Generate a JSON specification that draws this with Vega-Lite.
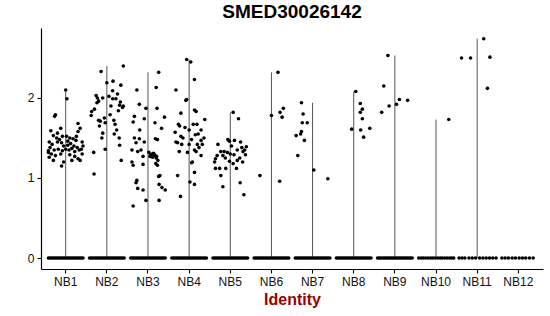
{
"$schema": "https://vega.github.io/schema/vega-lite/v6.json",
"width": 502, "height": 241,
"autosize": {"type": "none"},
"padding": {"left": 41, "top": 28, "right": 7, "bottom": 47},
"background": "white",
"title": {"text": "SMED30026142", "fontSize": 19, "fontWeight": "bold", "font": "Liberation Sans", "color": "black", "anchor": "middle", "offset": 6},
"config": {"view": {"stroke": null}, "axis": {"grid": false, "domainColor": "black", "tickColor": "black", "labelColor": "#111", "labelFont": "Liberation Sans", "labelFontSize": 12, "titleFont": "Liberation Sans", "domainWidth": 1.2, "tickWidth": 1.1, "tickSize": 4, "labelPadding": 3}},
"data": {"values": [
{"g":"NB1","v":2.10,"j":0.0},{"g":"NB1","v":1.99,"j":0.03},{"g":"NB1","v":1.79,"j":-0.25},{"g":"NB1","v":1.77,"j":-0.27},{"g":"NB1","v":1.59,"j":-0.36},{"g":"NB1","v":1.56,"j":-0.2},{"g":"NB1","v":1.62,"j":-0.12},{"g":"NB1","v":1.53,"j":-0.3},{"g":"NB1","v":1.45,"j":-0.4},{"g":"NB1","v":1.42,"j":-0.33},{"g":"NB1","v":1.38,"j":-0.38},{"g":"NB1","v":1.32,"j":-0.42},{"g":"NB1","v":1.5,"j":-0.22},{"g":"NB1","v":1.48,"j":-0.15},{"g":"NB1","v":1.52,"j":-0.08},{"g":"NB1","v":1.52,"j":0.02},{"g":"NB1","v":1.5,"j":0.1},{"g":"NB1","v":1.49,"j":0.18},{"g":"NB1","v":1.47,"j":0.25},{"g":"NB1","v":1.58,"j":0.3},{"g":"NB1","v":1.62,"j":0.35},{"g":"NB1","v":1.68,"j":0.3},{"g":"NB1","v":1.44,"j":-0.1},{"g":"NB1","v":1.40,"j":-0.05},{"g":"NB1","v":1.41,"j":0.05},{"g":"NB1","v":1.43,"j":0.12},{"g":"NB1","v":1.40,"j":0.2},{"g":"NB1","v":1.38,"j":0.28},{"g":"NB1","v":1.36,"j":0.38},{"g":"NB1","v":1.40,"j":0.42},{"g":"NB1","v":1.35,"j":-0.28},{"g":"NB1","v":1.36,"j":-0.18},{"g":"NB1","v":1.34,"j":-0.08},{"g":"NB1","v":1.36,"j":0.0},{"g":"NB1","v":1.35,"j":0.08},{"g":"NB1","v":1.37,"j":0.15},{"g":"NB1","v":1.33,"j":0.22},{"g":"NB1","v":1.35,"j":0.33},{"g":"NB1","v":1.3,"j":0.4},{"g":"NB1","v":1.3,"j":-0.35},{"g":"NB1","v":1.28,"j":-0.25},{"g":"NB1","v":1.3,"j":-0.12},{"g":"NB1","v":1.29,"j":0.1},{"g":"NB1","v":1.27,"j":0.22},{"g":"NB1","v":1.24,"j":0.3},{"g":"NB1","v":1.34,"j":-0.42},{"g":"NB1","v":1.22,"j":-0.3},{"g":"NB1","v":1.2,"j":-0.05},{"g":"NB1","v":1.22,"j":0.15},{"g":"NB1","v":1.22,"j":0.35},{"g":"NB1","v":1.15,"j":-0.1},{"g":"NB1","v":1.45,"j":-0.2},{"g":"NB1","v":1.46,"j":0.05},{"g":"NB1","v":1.52,"j":0.26},{"g":"NB1","v":1.26,"j":-0.4},{"g":"NB1","v":1.45,"j":0.4},
{"g":"NB2","v":2.33,"j":-0.14},{"g":"NB2","v":2.4,"j":0.4},{"g":"NB2","v":2.19,"j":0.0},{"g":"NB2","v":2.21,"j":0.15},{"g":"NB2","v":2.16,"j":0.34},{"g":"NB2","v":2.09,"j":0.14},{"g":"NB2","v":2.0,"j":-0.23},{"g":"NB2","v":2.0,"j":-0.1},{"g":"NB2","v":1.99,"j":0.22},{"g":"NB2","v":1.99,"j":0.14},{"g":"NB2","v":1.94,"j":-0.24},{"g":"NB2","v":1.96,"j":-0.2},{"g":"NB2","v":1.91,"j":0.31},{"g":"NB2","v":1.9,"j":0.4},{"g":"NB2","v":1.83,"j":-0.37},{"g":"NB2","v":1.78,"j":-0.38},{"g":"NB2","v":1.72,"j":-0.2},{"g":"NB2","v":1.71,"j":-0.16},{"g":"NB2","v":1.79,"j":0.08},{"g":"NB2","v":1.72,"j":0.17},{"g":"NB2","v":1.67,"j":0.2},{"g":"NB2","v":1.6,"j":0.24},{"g":"NB2","v":1.65,"j":-0.18},{"g":"NB2","v":1.56,"j":-0.1},{"g":"NB2","v":1.5,"j":-0.12},{"g":"NB2","v":1.69,"j":-0.04},{"g":"NB2","v":1.41,"j":0.31},{"g":"NB2","v":1.32,"j":-0.32},{"g":"NB2","v":1.36,"j":-0.04},{"g":"NB2","v":1.22,"j":0.35},{"g":"NB2","v":1.05,"j":-0.31},{"g":"NB2","v":1.84,"j":0.28},{"g":"NB2","v":1.88,"j":0.38},{"g":"NB2","v":1.86,"j":-0.3},{"g":"NB2","v":2.02,"j":0.05},{"g":"NB2","v":2.05,"j":0.26},{"g":"NB2","v":1.75,"j":-0.06},{"g":"NB2","v":1.9,"j":0.1},{"g":"NB2","v":2.03,"j":-0.26},{"g":"NB2","v":1.95,"j":0.33},{"g":"NB2","v":1.55,"j":0.18},{"g":"NB2","v":1.5,"j":0.3},
{"g":"NB3","v":2.32,"j":0.26},{"g":"NB3","v":2.1,"j":-0.27},{"g":"NB3","v":2.13,"j":0.2},{"g":"NB3","v":1.92,"j":-0.21},{"g":"NB3","v":1.87,"j":0.22},{"g":"NB3","v":1.87,"j":-0.05},{"g":"NB3","v":1.77,"j":-0.33},{"g":"NB3","v":1.74,"j":-0.09},{"g":"NB3","v":1.76,"j":0.4},{"g":"NB3","v":1.7,"j":-0.36},{"g":"NB3","v":1.69,"j":0.17},{"g":"NB3","v":1.6,"j":-0.2},{"g":"NB3","v":1.62,"j":0.33},{"g":"NB3","v":1.5,"j":-0.33},{"g":"NB3","v":1.49,"j":-0.21},{"g":"NB3","v":1.44,"j":-0.29},{"g":"NB3","v":1.45,"j":-0.09},{"g":"NB3","v":1.49,"j":0.18},{"g":"NB3","v":1.48,"j":0.23},{"g":"NB3","v":1.35,"j":-0.39},{"g":"NB3","v":1.33,"j":-0.25},{"g":"NB3","v":1.35,"j":-0.17},{"g":"NB3","v":1.32,"j":0.02},{"g":"NB3","v":1.29,"j":0.07},{"g":"NB3","v":1.3,"j":0.15},{"g":"NB3","v":1.27,"j":0.21},{"g":"NB3","v":1.26,"j":0.11},{"g":"NB3","v":1.27,"j":0.05},{"g":"NB3","v":1.27,"j":-0.12},{"g":"NB3","v":1.2,"j":-0.39},{"g":"NB3","v":1.16,"j":-0.36},{"g":"NB3","v":1.17,"j":-0.12},{"g":"NB3","v":1.16,"j":0.23},{"g":"NB3","v":1.02,"j":0.26},{"g":"NB3","v":1.03,"j":0.29},{"g":"NB3","v":0.97,"j":-0.27},{"g":"NB3","v":0.94,"j":-0.29},{"g":"NB3","v":0.87,"j":-0.25},{"g":"NB3","v":0.92,"j":0.27},{"g":"NB3","v":0.88,"j":0.34},{"g":"NB3","v":0.85,"j":0.42},{"g":"NB3","v":0.85,"j":-0.12},{"g":"NB3","v":0.72,"j":-0.05},{"g":"NB3","v":0.72,"j":0.27},{"g":"NB3","v":0.65,"j":-0.36},{"g":"NB3","v":1.3,"j":0.1},{"g":"NB3","v":1.28,"j":0.17},{"g":"NB3","v":1.31,"j":0.13},{"g":"NB3","v":1.25,"j":0.2},{"g":"NB3","v":1.22,"j":0.24},{"g":"NB3","v":1.18,"j":0.19},
{"g":"NB4","v":2.48,"j":-0.06},{"g":"NB4","v":2.45,"j":0.04},{"g":"NB4","v":2.23,"j":0.13},{"g":"NB4","v":2.1,"j":-0.32},{"g":"NB4","v":1.98,"j":-0.06},{"g":"NB4","v":1.97,"j":-0.08},{"g":"NB4","v":1.85,"j":0.13},{"g":"NB4","v":1.83,"j":0.17},{"g":"NB4","v":1.81,"j":-0.2},{"g":"NB4","v":1.73,"j":0.38},{"g":"NB4","v":1.67,"j":0.19},{"g":"NB4","v":1.67,"j":0.1},{"g":"NB4","v":1.67,"j":-0.26},{"g":"NB4","v":1.65,"j":-0.23},{"g":"NB4","v":1.63,"j":-0.1},{"g":"NB4","v":1.6,"j":0.29},{"g":"NB4","v":1.57,"j":-0.34},{"g":"NB4","v":1.54,"j":0.15},{"g":"NB4","v":1.55,"j":0.22},{"g":"NB4","v":1.52,"j":-0.2},{"g":"NB4","v":1.5,"j":-0.15},{"g":"NB4","v":1.48,"j":0.06},{"g":"NB4","v":1.47,"j":0.29},{"g":"NB4","v":1.44,"j":-0.28},{"g":"NB4","v":1.45,"j":-0.32},{"g":"NB4","v":1.42,"j":-0.18},{"g":"NB4","v":1.42,"j":0.0},{"g":"NB4","v":1.42,"j":0.2},{"g":"NB4","v":1.42,"j":0.32},{"g":"NB4","v":1.35,"j":0.13},{"g":"NB4","v":1.32,"j":-0.04},{"g":"NB4","v":1.33,"j":-0.24},{"g":"NB4","v":1.33,"j":0.17},{"g":"NB4","v":1.28,"j":0.29},{"g":"NB4","v":1.2,"j":0.08},{"g":"NB4","v":1.19,"j":0.06},{"g":"NB4","v":1.07,"j":0.13},{"g":"NB4","v":1.03,"j":-0.28},{"g":"NB4","v":0.95,"j":0.02},{"g":"NB4","v":0.92,"j":0.13},{"g":"NB4","v":0.77,"j":-0.21},{"g":"NB4","v":1.6,"j":0.0},{"g":"NB4","v":1.38,"j":0.24},{"g":"NB4","v":1.5,"j":0.36},
{"g":"NB5","v":1.82,"j":0.07},{"g":"NB5","v":1.74,"j":0.2},{"g":"NB5","v":1.48,"j":-0.06},{"g":"NB5","v":1.46,"j":-0.02},{"g":"NB5","v":1.47,"j":0.1},{"g":"NB5","v":1.4,"j":0.03},{"g":"NB5","v":1.39,"j":0.39},{"g":"NB5","v":1.35,"j":0.35},{"g":"NB5","v":1.35,"j":0.17},{"g":"NB5","v":1.33,"j":-0.23},{"g":"NB5","v":1.33,"j":-0.15},{"g":"NB5","v":1.32,"j":-0.07},{"g":"NB5","v":1.33,"j":0.31},{"g":"NB5","v":1.29,"j":0.37},{"g":"NB5","v":1.28,"j":-0.18},{"g":"NB5","v":1.28,"j":-0.32},{"g":"NB5","v":1.24,"j":-0.36},{"g":"NB5","v":1.29,"j":0.09},{"g":"NB5","v":1.25,"j":0.23},{"g":"NB5","v":1.21,"j":-0.02},{"g":"NB5","v":1.22,"j":0.17},{"g":"NB5","v":1.18,"j":0.07},{"g":"NB5","v":1.12,"j":-0.36},{"g":"NB5","v":1.12,"j":-0.26},{"g":"NB5","v":1.12,"j":-0.11},{"g":"NB5","v":1.03,"j":-0.23},{"g":"NB5","v":0.94,"j":0.24},{"g":"NB5","v":0.89,"j":-0.18},{"g":"NB5","v":0.79,"j":0.33},{"g":"NB5","v":1.42,"j":-0.3},{"g":"NB5","v":1.45,"j":0.25},{"g":"NB5","v":1.25,"j":-0.12},{"g":"NB5","v":1.3,"j":0.0},{"g":"NB5","v":1.38,"j":0.28},{"g":"NB5","v":1.2,"j":-0.38},{"g":"NB5","v":1.12,"j":0.15},{"g":"NB5","v":1.2,"j":0.3},
{"g":"NB6","v":2.32,"j":0.16},{"g":"NB6","v":1.78,"j":0.0},{"g":"NB6","v":1.82,"j":0.21},{"g":"NB6","v":1.87,"j":0.29},{"g":"NB6","v":1.76,"j":0.26},{"g":"NB6","v":1.03,"j":-0.28},{"g":"NB6","v":0.96,"j":0.2},
{"g":"NB7","v":1.94,"j":-0.27},{"g":"NB7","v":1.8,"j":-0.23},{"g":"NB7","v":1.69,"j":-0.25},{"g":"NB7","v":1.69,"j":-0.13},{"g":"NB7","v":1.58,"j":-0.27},{"g":"NB7","v":1.55,"j":-0.29},{"g":"NB7","v":1.53,"j":-0.4},{"g":"NB7","v":1.47,"j":-0.2},{"g":"NB7","v":1.28,"j":-0.36},{"g":"NB7","v":1.1,"j":0.03},{"g":"NB7","v":0.99,"j":0.37},
{"g":"NB8","v":2.08,"j":0.05},{"g":"NB8","v":1.93,"j":0.16},{"g":"NB8","v":1.86,"j":0.21},{"g":"NB8","v":1.82,"j":0.16},{"g":"NB8","v":1.74,"j":0.21},{"g":"NB8","v":1.61,"j":-0.05},{"g":"NB8","v":1.6,"j":0.17},{"g":"NB8","v":1.62,"j":0.39},{"g":"NB8","v":1.51,"j":0.24},
{"g":"NB9","v":2.53,"j":-0.17},{"g":"NB9","v":2.15,"j":-0.27},{"g":"NB9","v":1.98,"j":0.11},{"g":"NB9","v":1.97,"j":0.31},{"g":"NB9","v":1.92,"j":0.04},{"g":"NB9","v":1.9,"j":-0.14},{"g":"NB9","v":1.82,"j":-0.32},
{"g":"NB10","v":1.73,"j":0.31},
{"g":"NB11","v":2.74,"j":0.16},{"g":"NB11","v":2.5,"j":-0.38},{"g":"NB11","v":2.5,"j":-0.16},{"g":"NB11","v":2.51,"j":0.31},{"g":"NB11","v":2.12,"j":0.25},
{"g":"NB1","v":0,"j":-0.42},{"g":"NB1","v":0,"j":-0.38},{"g":"NB1","v":0,"j":-0.34},{"g":"NB1","v":0,"j":-0.3},{"g":"NB1","v":0,"j":-0.26},{"g":"NB1","v":0,"j":-0.22},{"g":"NB1","v":0,"j":-0.18},{"g":"NB1","v":0,"j":-0.14},{"g":"NB1","v":0,"j":-0.1},{"g":"NB1","v":0,"j":-0.06},{"g":"NB1","v":0,"j":-0.02},{"g":"NB1","v":0,"j":0.02},{"g":"NB1","v":0,"j":0.06},{"g":"NB1","v":0,"j":0.1},{"g":"NB1","v":0,"j":0.14},{"g":"NB1","v":0,"j":0.18},{"g":"NB1","v":0,"j":0.22},{"g":"NB1","v":0,"j":0.26},{"g":"NB1","v":0,"j":0.3},{"g":"NB1","v":0,"j":0.34},{"g":"NB1","v":0,"j":0.38},{"g":"NB1","v":0,"j":0.42},
{"g":"NB2","v":0,"j":-0.42},{"g":"NB2","v":0,"j":-0.38},{"g":"NB2","v":0,"j":-0.34},{"g":"NB2","v":0,"j":-0.3},{"g":"NB2","v":0,"j":-0.26},{"g":"NB2","v":0,"j":-0.22},{"g":"NB2","v":0,"j":-0.18},{"g":"NB2","v":0,"j":-0.14},{"g":"NB2","v":0,"j":-0.1},{"g":"NB2","v":0,"j":-0.06},{"g":"NB2","v":0,"j":-0.02},{"g":"NB2","v":0,"j":0.02},{"g":"NB2","v":0,"j":0.06},{"g":"NB2","v":0,"j":0.1},{"g":"NB2","v":0,"j":0.14},{"g":"NB2","v":0,"j":0.18},{"g":"NB2","v":0,"j":0.22},{"g":"NB2","v":0,"j":0.26},{"g":"NB2","v":0,"j":0.3},{"g":"NB2","v":0,"j":0.34},{"g":"NB2","v":0,"j":0.38},{"g":"NB2","v":0,"j":0.42},
{"g":"NB3","v":0,"j":-0.42},{"g":"NB3","v":0,"j":-0.38},{"g":"NB3","v":0,"j":-0.34},{"g":"NB3","v":0,"j":-0.3},{"g":"NB3","v":0,"j":-0.26},{"g":"NB3","v":0,"j":-0.22},{"g":"NB3","v":0,"j":-0.18},{"g":"NB3","v":0,"j":-0.14},{"g":"NB3","v":0,"j":-0.1},{"g":"NB3","v":0,"j":-0.06},{"g":"NB3","v":0,"j":-0.02},{"g":"NB3","v":0,"j":0.02},{"g":"NB3","v":0,"j":0.06},{"g":"NB3","v":0,"j":0.1},{"g":"NB3","v":0,"j":0.14},{"g":"NB3","v":0,"j":0.18},{"g":"NB3","v":0,"j":0.22},{"g":"NB3","v":0,"j":0.26},{"g":"NB3","v":0,"j":0.3},{"g":"NB3","v":0,"j":0.34},{"g":"NB3","v":0,"j":0.38},{"g":"NB3","v":0,"j":0.42},
{"g":"NB4","v":0,"j":-0.42},{"g":"NB4","v":0,"j":-0.38},{"g":"NB4","v":0,"j":-0.34},{"g":"NB4","v":0,"j":-0.3},{"g":"NB4","v":0,"j":-0.26},{"g":"NB4","v":0,"j":-0.22},{"g":"NB4","v":0,"j":-0.18},{"g":"NB4","v":0,"j":-0.14},{"g":"NB4","v":0,"j":-0.1},{"g":"NB4","v":0,"j":-0.06},{"g":"NB4","v":0,"j":-0.02},{"g":"NB4","v":0,"j":0.02},{"g":"NB4","v":0,"j":0.06},{"g":"NB4","v":0,"j":0.1},{"g":"NB4","v":0,"j":0.14},{"g":"NB4","v":0,"j":0.18},{"g":"NB4","v":0,"j":0.22},{"g":"NB4","v":0,"j":0.26},{"g":"NB4","v":0,"j":0.3},{"g":"NB4","v":0,"j":0.34},{"g":"NB4","v":0,"j":0.38},{"g":"NB4","v":0,"j":0.42},
{"g":"NB5","v":0,"j":-0.42},{"g":"NB5","v":0,"j":-0.38},{"g":"NB5","v":0,"j":-0.34},{"g":"NB5","v":0,"j":-0.3},{"g":"NB5","v":0,"j":-0.26},{"g":"NB5","v":0,"j":-0.22},{"g":"NB5","v":0,"j":-0.18},{"g":"NB5","v":0,"j":-0.14},{"g":"NB5","v":0,"j":-0.1},{"g":"NB5","v":0,"j":-0.06},{"g":"NB5","v":0,"j":-0.02},{"g":"NB5","v":0,"j":0.02},{"g":"NB5","v":0,"j":0.06},{"g":"NB5","v":0,"j":0.1},{"g":"NB5","v":0,"j":0.14},{"g":"NB5","v":0,"j":0.18},{"g":"NB5","v":0,"j":0.22},{"g":"NB5","v":0,"j":0.26},{"g":"NB5","v":0,"j":0.3},{"g":"NB5","v":0,"j":0.34},{"g":"NB5","v":0,"j":0.38},{"g":"NB5","v":0,"j":0.42},
{"g":"NB6","v":0,"j":-0.42},{"g":"NB6","v":0,"j":-0.38},{"g":"NB6","v":0,"j":-0.34},{"g":"NB6","v":0,"j":-0.3},{"g":"NB6","v":0,"j":-0.26},{"g":"NB6","v":0,"j":-0.22},{"g":"NB6","v":0,"j":-0.18},{"g":"NB6","v":0,"j":-0.14},{"g":"NB6","v":0,"j":-0.1},{"g":"NB6","v":0,"j":-0.06},{"g":"NB6","v":0,"j":-0.02},{"g":"NB6","v":0,"j":0.02},{"g":"NB6","v":0,"j":0.06},{"g":"NB6","v":0,"j":0.1},{"g":"NB6","v":0,"j":0.14},{"g":"NB6","v":0,"j":0.18},{"g":"NB6","v":0,"j":0.22},{"g":"NB6","v":0,"j":0.26},{"g":"NB6","v":0,"j":0.3},{"g":"NB6","v":0,"j":0.34},{"g":"NB6","v":0,"j":0.38},{"g":"NB6","v":0,"j":0.42},
{"g":"NB7","v":0,"j":-0.42},{"g":"NB7","v":0,"j":-0.38},{"g":"NB7","v":0,"j":-0.34},{"g":"NB7","v":0,"j":-0.3},{"g":"NB7","v":0,"j":-0.26},{"g":"NB7","v":0,"j":-0.22},{"g":"NB7","v":0,"j":-0.18},{"g":"NB7","v":0,"j":-0.14},{"g":"NB7","v":0,"j":-0.1},{"g":"NB7","v":0,"j":-0.06},{"g":"NB7","v":0,"j":-0.02},{"g":"NB7","v":0,"j":0.02},{"g":"NB7","v":0,"j":0.06},{"g":"NB7","v":0,"j":0.1},{"g":"NB7","v":0,"j":0.14},{"g":"NB7","v":0,"j":0.18},{"g":"NB7","v":0,"j":0.22},{"g":"NB7","v":0,"j":0.26},{"g":"NB7","v":0,"j":0.3},{"g":"NB7","v":0,"j":0.34},{"g":"NB7","v":0,"j":0.38},{"g":"NB7","v":0,"j":0.42},
{"g":"NB8","v":0,"j":-0.42},{"g":"NB8","v":0,"j":-0.38},{"g":"NB8","v":0,"j":-0.34},{"g":"NB8","v":0,"j":-0.3},{"g":"NB8","v":0,"j":-0.26},{"g":"NB8","v":0,"j":-0.22},{"g":"NB8","v":0,"j":-0.18},{"g":"NB8","v":0,"j":-0.14},{"g":"NB8","v":0,"j":-0.1},{"g":"NB8","v":0,"j":-0.06},{"g":"NB8","v":0,"j":-0.02},{"g":"NB8","v":0,"j":0.02},{"g":"NB8","v":0,"j":0.06},{"g":"NB8","v":0,"j":0.1},{"g":"NB8","v":0,"j":0.14},{"g":"NB8","v":0,"j":0.18},{"g":"NB8","v":0,"j":0.22},{"g":"NB8","v":0,"j":0.26},{"g":"NB8","v":0,"j":0.3},{"g":"NB8","v":0,"j":0.34},{"g":"NB8","v":0,"j":0.38},{"g":"NB8","v":0,"j":0.42},
{"g":"NB9","v":0,"j":-0.42},{"g":"NB9","v":0,"j":-0.38},{"g":"NB9","v":0,"j":-0.34},{"g":"NB9","v":0,"j":-0.3},{"g":"NB9","v":0,"j":-0.26},{"g":"NB9","v":0,"j":-0.22},{"g":"NB9","v":0,"j":-0.18},{"g":"NB9","v":0,"j":-0.14},{"g":"NB9","v":0,"j":-0.1},{"g":"NB9","v":0,"j":-0.06},{"g":"NB9","v":0,"j":-0.02},{"g":"NB9","v":0,"j":0.02},{"g":"NB9","v":0,"j":0.06},{"g":"NB9","v":0,"j":0.1},{"g":"NB9","v":0,"j":0.14},{"g":"NB9","v":0,"j":0.18},{"g":"NB9","v":0,"j":0.22},{"g":"NB9","v":0,"j":0.26},{"g":"NB9","v":0,"j":0.3},{"g":"NB9","v":0,"j":0.34},{"g":"NB9","v":0,"j":0.38},{"g":"NB9","v":0,"j":0.42},
{"g":"NB10","v":0,"j":-0.42},{"g":"NB10","v":0,"j":-0.36},{"g":"NB10","v":0,"j":-0.31},{"g":"NB10","v":0,"j":-0.25},{"g":"NB10","v":0,"j":-0.19},{"g":"NB10","v":0,"j":-0.13},{"g":"NB10","v":0,"j":-0.08},{"g":"NB10","v":0,"j":-0.02},{"g":"NB10","v":0,"j":0.04},{"g":"NB10","v":0,"j":0.1},{"g":"NB10","v":0,"j":0.15},{"g":"NB10","v":0,"j":0.21},{"g":"NB10","v":0,"j":0.27},{"g":"NB10","v":0,"j":0.33},{"g":"NB10","v":0,"j":0.38},{"g":"NB10","v":0,"j":0.43},
{"g":"NB11","v":0,"j":-0.44},{"g":"NB11","v":0,"j":-0.37},{"g":"NB11","v":0,"j":-0.3},{"g":"NB11","v":0,"j":-0.2},{"g":"NB11","v":0,"j":-0.12},{"g":"NB11","v":0,"j":-0.04},{"g":"NB11","v":0,"j":0.06},{"g":"NB11","v":0,"j":0.14},{"g":"NB11","v":0,"j":0.22},{"g":"NB11","v":0,"j":0.3},{"g":"NB11","v":0,"j":0.38},{"g":"NB11","v":0,"j":0.46},
{"g":"NB12","v":0,"j":-0.4},{"g":"NB12","v":0,"j":-0.32},{"g":"NB12","v":0,"j":-0.24},{"g":"NB12","v":0,"j":-0.15},{"g":"NB12","v":0,"j":-0.07},{"g":"NB12","v":0,"j":0.02},{"g":"NB12","v":0,"j":0.1},{"g":"NB12","v":0,"j":0.18},{"g":"NB12","v":0,"j":0.27},{"g":"NB12","v":0,"j":0.36}
]},
"encoding": {
  "x": {"field": "g", "type": "nominal", "sort": ["NB1","NB2","NB3","NB4","NB5","NB6","NB7","NB8","NB9","NB10","NB11","NB12"], "scale": {"paddingInner": 0, "paddingOuter": 0.1}, "axis": {"title": "Identity", "titleColor": "#990000", "titleFontSize": 16, "titleFontWeight": "bold", "titlePadding": 4, "labelAngle": 0}}
},
"layer": [
  {"mark": {"type": "rule", "color": "#555555", "strokeWidth": 1},
   "encoding": {"y": {"aggregate": "min", "field": "v", "type": "quantitative", "scale": {"domain": [-0.137, 2.874], "nice": false, "zero": false}, "axis": {"title": null, "values": [0, 1, 2], "format": "d"}}, "y2": {"aggregate": "max", "field": "v"}}},
  {"mark": {"type": "circle", "size": 13, "color": "black", "opacity": 1},
   "encoding": {"y": {"field": "v", "type": "quantitative"}, "xOffset": {"field": "j", "type": "quantitative", "scale": {"domain": [-0.5, 0.5]}}}}
]
}
